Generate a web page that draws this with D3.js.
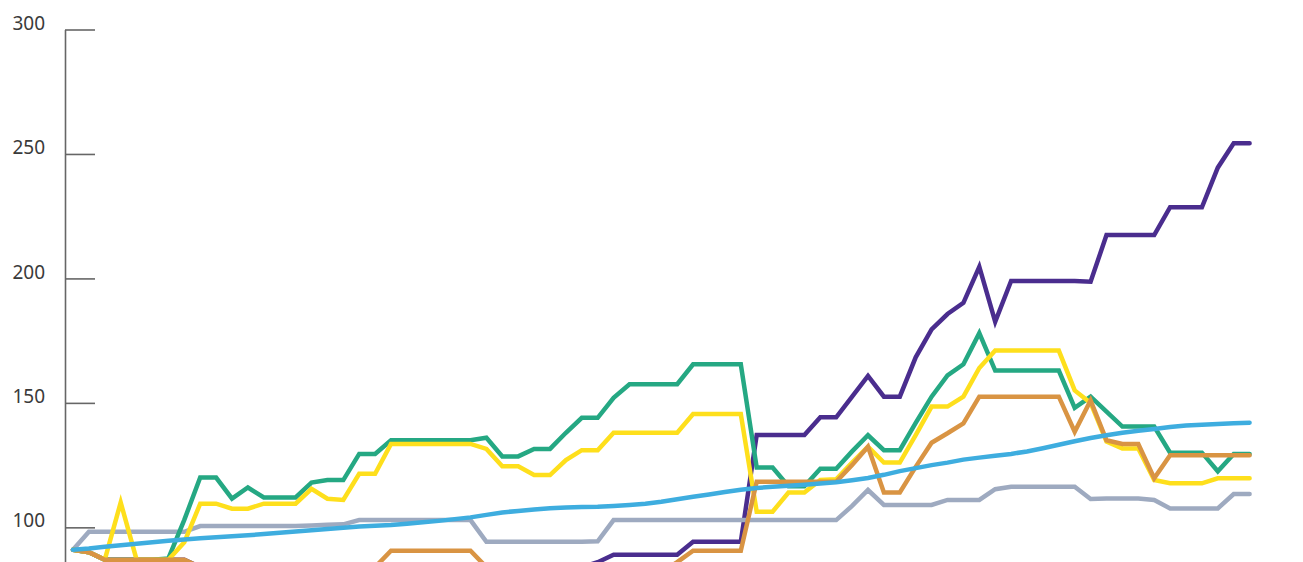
<!DOCTYPE html>
<html>
<head>
<meta charset="utf-8">
<script src="https://cdn.jsdelivr.net/npm/d3@7"></script>
<style>
  html, body { margin: 0; padding: 0; background: #ffffff; overflow: hidden; }
  svg { display: block; }
  .tick text { font-family: "Noto Sans", "Open Sans", sans-serif; font-size: 19px; fill: #3a3a3a; }
</style>
</head>
<body>
<svg id="chart" width="1303" height="562"></svg>
<script>
// ---- data (values below ~86 are cut off by the frame and estimated) ----
const yTickValues = [100, 150, 200, 250, 300];

const purple = [91, 90, 87, 87, 87, 87, 87, 87, 84, 83,
  82, 82, 81, 81, 80, 80, 80, 81, 81, 82,
  82, 83, 83, 83, 83, 83, 82, 82, 82, 82,
  83, 84, 84, 86, 89, 89, 89, 89, 89, 94.2,
  94.2, 94.2, 94.2, 137.1, 137.1, 137.1, 137.1, 144.2, 144.2, 152.5,
  160.8, 152.5, 152.5, 168.3, 179.5, 185.7, 190.2, 204.7, 182.6, 199,
  199, 199, 199, 199, 198.7, 217.4, 217.4, 217.4, 217.4, 228.6,
  228.6, 228.6, 244.5, 254.3, 254.3];

const gray = [91, 98.2, 98.2, 98.2, 98.2, 98.2, 98.2, 98.2, 100.5, 100.5,
  100.5, 100.5, 100.5, 100.5, 100.5, 100.7, 101, 101.2, 102.9, 102.9,
  102.9, 102.9, 102.9, 102.9, 102.9, 102.9, 94.2, 94.2, 94.2, 94.2,
  94.2, 94.2, 94.2, 94.4, 102.9, 102.9, 102.9, 102.9, 102.9, 102.9,
  102.9, 102.9, 102.9, 102.9, 102.9, 102.9, 102.9, 102.9, 102.9, 108.6,
  115, 109, 109, 109, 109, 111, 111, 111, 115.3, 116.3,
  116.3, 116.3, 116.3, 116.3, 111.4, 111.6, 111.6, 111.6, 111, 107.6,
  107.6, 107.6, 107.6, 113.4, 113.4];

const green = [91, 90, 87, 87, 87, 87, 87.5, 103, 120, 120,
  111.5, 116, 112, 112, 112, 118, 119, 119, 129.5, 129.5,
  135, 135, 135, 135, 135, 135, 136, 128.5, 128.5, 131.5,
  131.5, 138, 144, 144, 152, 157.5, 157.5, 157.5, 157.5, 165.5,
  165.5, 165.5, 165.5, 124, 124, 116.5, 116.5, 123.5, 123.5, 130.5,
  137, 131, 131, 142, 152.5, 161, 165.5, 178, 163, 163,
  163, 163, 163, 148, 152.5, 146.5, 140.5, 140.5, 140.5, 130,
  130, 130, 122.5, 129.5, 129.5];

const yellow = [91, 90, 87, 110, 87, 87, 87, 94, 109.5, 109.5,
  107.5, 107.5, 109.5, 109.5, 109.5, 115.5, 111.5, 111, 121.5, 121.5,
  133.5, 133.5, 133.5, 133.5, 133.5, 133.5, 131.5, 124.5, 124.5, 121,
  121, 127, 131, 131, 138, 138, 138, 138, 138, 145.5,
  145.5, 145.5, 145.5, 106.3, 106.3, 114, 114, 119, 119.3, 126,
  132.4, 126, 126, 137, 148.5, 148.5, 152.5, 164, 171, 171,
  171, 171, 171, 155, 150, 134.5, 131.7, 131.7, 119, 117.7,
  117.7, 117.7, 119.7, 119.7, 119.7];

const orange = [91, 90, 87, 87, 87, 87, 87, 87, 84, 84,
  84, 83, 83, 83, 83, 83, 83, 84, 84, 84,
  90.6, 90.6, 90.6, 90.6, 90.6, 90.6, 84, 83, 82, 82,
  82, 82, 82, 82, 82, 82, 82, 82, 86, 90.6,
  90.6, 90.6, 90.6, 118.3, 118.3, 118.3, 118.3, 118.3, 118.3, 125,
  132.4, 114, 114, 124.3, 134, 137.8, 141.8, 152.5, 152.5, 152.5,
  152.5, 152.5, 152.5, 138.4, 151, 135, 133.5, 133.5, 119.7, 129,
  129, 129, 129, 129, 129];

const blue = [91, 91.5, 92.2, 92.8, 93.4, 94, 94.6, 95.1, 95.6, 96,
  96.4, 96.8, 97.3, 97.8, 98.3, 98.8, 99.3, 99.8, 100.3, 100.6,
  100.9, 101.4, 102, 102.6, 103.3, 104, 105, 106, 106.6, 107.2,
  107.7, 108, 108.2, 108.3, 108.6, 109, 109.5, 110.3, 111.3, 112.3,
  113.2, 114.2, 115.1, 115.8, 116.3, 116.7, 117.1, 117.6, 118.1, 118.9,
  119.8, 121.1, 122.6, 123.8, 125, 126, 127.2, 128, 128.8, 129.5,
  130.5, 131.8, 133.2, 134.6, 135.9, 137, 138, 138.8, 139.5, 140.3,
  140.9, 141.2, 141.5, 141.8, 142];

const periods = blue.map((_, i) => i);

// drawing order: bottom to top
const seriesList = [
  { name: "purple", values: purple, color: "#4a2d8e" },
  { name: "gray",   values: gray,   color: "#9eaac0" },
  { name: "green",  values: green,  color: "#25a883" },
  { name: "yellow", values: yellow, color: "#fedf1c" },
  { name: "orange", values: orange, color: "#d99443" },
  { name: "blue",   values: blue,   color: "#3eaddf" }
];

// ---- layout ----
const svg = d3.select("#chart");

const x = d3.scaleLinear()
  .domain([periods[0], periods[periods.length - 1]])
  .range([73, 1249.6]);

const y = d3.scaleLinear()
  .domain([50, 300])
  .range([651.8, 29.5]);

// axis
const axis = d3.axisLeft(y)
  .tickValues(yTickValues)
  .tickSizeInner(-30)
  .tickSizeOuter(0)
  .tickPadding(20)
  .tickFormat(d3.format("d"));

const gAxis = svg.append("g")
  .attr("transform", "translate(65,0)")
  .call(axis);

gAxis.select(".domain").attr("stroke", "#666666").attr("stroke-width", 1.6);
gAxis.selectAll(".tick line").attr("stroke", "#666666").attr("stroke-width", 1.6);
gAxis.selectAll(".tick text").attr("dy", "-0.02em").attr("fill", "#3a3a3a");
gAxis.attr("font-family", null).attr("font-size", null);

// lines
const line = d3.line()
  .x((d, i) => x(periods[i]))
  .y(d => y(d));

svg.append("g")
  .selectAll("path")
  .data(seriesList)
  .join("path")
  .attr("fill", "none")
  .attr("stroke", d => d.color)
  .attr("stroke-width", 4.5)
  .attr("stroke-linejoin", "miter")
  .attr("stroke-miterlimit", 4)
  .attr("stroke-linecap", "round")
  .attr("d", d => line(d.values));
</script>
</body>
</html>
